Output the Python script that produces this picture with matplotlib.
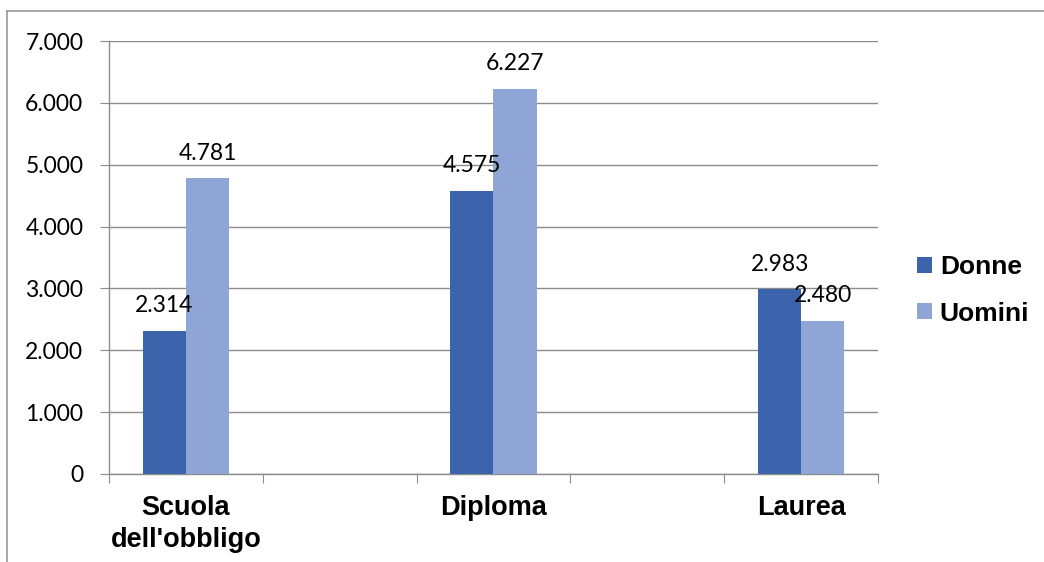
import matplotlib.pyplot as plt
from matplotlib.lines import Line2D
import numpy as np

categorie = ["Scuola\ndell'obbligo", "Diploma", "Laurea"]
posizioni = [0, 2, 4]          # slot vuoti tra una categoria e l'altra
donne = [2314, 4575, 2983]
uomini = [4781, 6227, 2480]
etichette_donne = ["2.314", "4.575", "2.983"]
etichette_uomini = ["4.781", "6.227", "2.480"]
yticks = [0, 1000, 2000, 3000, 4000, 5000, 6000, 7000]
ytick_labels = ["0", "1.000", "2.000", "3.000", "4.000", "5.000", "6.000", "7.000"]

col_donne = "#3C64AC"
col_uomini = "#8FA5D6"
grigio = "#8C8C8C"

fig = plt.figure(figsize=(10.44, 5.62), dpi=100)
ax = fig.add_axes([0.1044, 0.1566, 0.7366, 0.7704])

w = 0.28
x = np.array(posizioni)
b1 = ax.bar(x - w / 2, donne, w, color=col_donne, label="Donne", zorder=3)
b2 = ax.bar(x + w / 2, uomini, w, color=col_uomini, label="Uomini", zorder=3)

num_font = dict(family=["Lato", "DejaVu Sans"], fontsize=16.5, color="black")
for rect, lab in zip(b1, etichette_donne):
    ax.annotate(lab, (rect.get_x() + rect.get_width() / 2, rect.get_height()),
                xytext=(0, 10.5), textcoords="offset points",
                ha="center", va="bottom", zorder=5, **num_font)
for rect, lab in zip(b2, etichette_uomini):
    ax.annotate(lab, (rect.get_x() + rect.get_width() / 2, rect.get_height()),
                xytext=(0, 10.5), textcoords="offset points",
                ha="center", va="bottom", zorder=5, **num_font)

ax.set_xlim(-0.5, 4.5)
ax.set_ylim(0, 7000)
ax.set_yticks(yticks)
ax.set_yticklabels(ytick_labels, **num_font)
ax.yaxis.grid(True, color=grigio, linewidth=1, zorder=0)

# tacche di categoria ai bordi degli slot, etichette al centro
ax.set_xticks(np.arange(-0.5, 5.0, 1.0))
ax.set_xticklabels([])
ax.set_xticks(posizioni, minor=True)
ax.set_xticklabels(categorie, minor=True, fontsize=19.5, fontweight="bold",
                   family=["Liberation Sans", "DejaVu Sans"], linespacing=1.3)
ax.tick_params(axis="x", which="major", length=6.5, color=grigio, direction="out")
ax.tick_params(axis="x", which="minor", length=0, pad=15)
ax.tick_params(axis="y", length=6.5, color=grigio, pad=12)

for s in ["top", "right"]:
    ax.spines[s].set_visible(False)
for s in ["left", "bottom"]:
    ax.spines[s].set_color(grigio)
    ax.spines[s].set_linewidth(1)

leg = fig.legend(handles=[b1, b2], loc="center left",
                 bbox_to_anchor=(0.856, 0.483), frameon=False,
                 prop=dict(family=["Liberation Sans", "DejaVu Sans"], weight="bold", size=19),
                 handlelength=0.55, handleheight=0.55, handletextpad=0.3, labelspacing=0.85)

# cornice del grafico
fig.add_artist(Line2D([7 / 1044, 1.0], [1 - 11 / 562, 1 - 11 / 562], color="#9A9A9A", linewidth=1.2))
fig.add_artist(Line2D([7 / 1044, 7 / 1044], [0.0, 1 - 11 / 562], color="#9A9A9A", linewidth=1.2))

fig.savefig("out.png", dpi=100)
